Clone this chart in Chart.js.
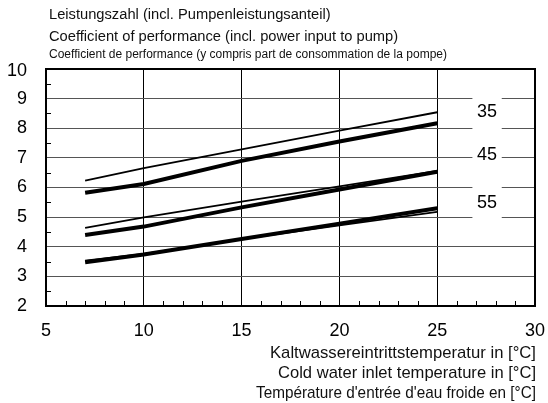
<!DOCTYPE html>
<html>
<head>
<meta charset="utf-8">
<script src="https://cdn.jsdelivr.net/npm/chart.js@4/dist/chart.umd.min.js"></script>
<style>
  html, body { margin: 0; padding: 0; background: #fff; }
  #wrap { width: 548px; height: 403px; }
</style>
</head>
<body>
<div id="wrap"><canvas id="cop"></canvas></div>
<script>
// water inlet temperature [°C]
const inletTemps = [7, 10, 15, 20, 25]

// COP curves (thin / thick line per outlet temperature)
const cop35Thin  = [6.23, 6.65, 7.29, 7.92, 8.54]
const cop35Thick = [5.82, 6.12, 6.90, 7.55, 8.17]
const cop45Thin  = [4.64, 4.99, 5.52, 6.04, 6.56]
const cop45Thick = [4.40, 4.68, 5.33, 5.93, 6.53]
const cop55Thin  = [3.53, 3.76, 4.26, 4.72, 5.18]
const cop55Thick = [3.48, 3.74, 4.26, 4.78, 5.30]

const curveLabels = ['35', '45', '55']
const curveLabelY = [8.55, 7.10, 5.48]
const curveLabelX = 27.55

const titleLines = [
    'Leistungszahl (incl. Pumpenleistungsanteil)',
    'Coefficient of performance (incl. power input to pump)',
    'Coefficient de performance (y compris part de consommation de la pompe)'
]
const xTitleLines = [
    'Kaltwassereintrittstemperatur in [°C]',
    'Cold water inlet temperature in [°C]',
    "Température d'entrée d'eau froide en [°C]"
]

const FONT = '"Liberation Sans", Arial, sans-serif'

function toPoints(values) {
    return values.map((v, i) => ({ x: inletTemps[i], y: v }))
}

function lineSet(values, thick) {
    return {
        data: toPoints(values),
        borderColor: '#000',
        borderWidth: thick ? 4 : 1.8,
        borderCapStyle: 'butt',
        pointRadius: 0,
        tension: 0,
        fill: false
    }
}

// frame, inward minor ticks, curve labels and all the free texts
const decorPlugin = {
    id: 'decor',
    beforeDatasetsDraw(chart) {
        const { ctx, chartArea: a, scales: { x, y } } = chart
        ctx.save()
        ctx.strokeStyle = '#000'
        ctx.lineWidth = 1
        ctx.beginPath()
        for (let v = 6; v < 30; v++) {
            if (v % 5 === 0) continue
            const px = Math.round(x.getPixelForValue(v)) + 0.5
            ctx.moveTo(px, a.bottom)
            ctx.lineTo(px, a.bottom - 5)
        }
        for (let v = 2.5; v < 10; v += 1) {
            const py = Math.round(y.getPixelForValue(v)) + 0.5
            ctx.moveTo(a.left, py)
            ctx.lineTo(a.left + 5, py)
        }
        ctx.stroke()

        // gaps in the gridlines behind the curve labels
        ctx.fillStyle = '#fff'
        const gx0 = x.getPixelForValue(26.8), gx1 = x.getPixelForValue(28.3)
        const gy0 = y.getPixelForValue(9.1), gy1 = y.getPixelForValue(4.85)
        ctx.fillRect(gx0, gy0, gx1 - gx0, gy1 - gy0)

        ctx.fillStyle = '#000'
        ctx.font = '18px ' + FONT
        ctx.textAlign = 'center'
        ctx.textBaseline = 'middle'
        curveLabels.forEach((t, i) => {
            ctx.fillText(t, x.getPixelForValue(curveLabelX), y.getPixelForValue(curveLabelY[i]))
        })

        ctx.lineWidth = 2
        ctx.strokeRect(a.left, a.top, a.right - a.left, a.bottom - a.top)
        ctx.restore()
    },
    afterDraw(chart) {
        const { ctx, chartArea: a, scales: { y } } = chart
        ctx.save()
        ctx.fillStyle = '#000'

        // y tick labels
        ctx.font = '18px ' + FONT
        ctx.textAlign = 'right'
        ctx.textBaseline = 'middle'
        y.ticks.forEach((t) => {
            let py = y.getPixelForValue(t.value)
            py = Math.max(py, a.top + 2)
            ctx.fillText(String(t.value), 27, py)
        })

        ctx.fillStyle = '#111'
        ctx.textAlign = 'left'
        ctx.font = '14.7px ' + FONT
        ctx.fillText(titleLines[0], 49, 15)
        ctx.fillText(titleLines[1], 49, 37)
        ctx.font = '12px "Liberation Sans Narrow", ' + FONT
        ctx.fillText(titleLines[2], 49, 55, 399)

        ctx.textAlign = 'right'
        ctx.font = '17px ' + FONT
        ctx.fillText(xTitleLines[0], a.right + 1, 353, 266)
        ctx.fillText(xTitleLines[1], a.right + 1, 373, 258)
        ctx.fillText(xTitleLines[2], a.right + 1, 393, 280)
        ctx.restore()
    }
}

new Chart(document.getElementById('cop'), {
    type: 'line',
    data: {
        datasets: [
            lineSet(cop35Thin, false),
            lineSet(cop35Thick, true),
            lineSet(cop45Thin, false),
            lineSet(cop45Thick, true),
            lineSet(cop55Thin, false),
            lineSet(cop55Thick, true)
        ]
    },
    options: {
        responsive: true,
        maintainAspectRatio: false,
        animation: false,
        layout: { padding: { top: 69, right: 13, left: 0, bottom: 0 } },
        plugins: {
            legend: { display: false },
            tooltip: { enabled: false }
        },
        scales: {
            x: {
                type: 'linear',
                min: 5,
                max: 30,
                afterFit: (s) => { s.height = 97 },
                border: { display: false },
                grid: { color: '#000', lineWidth: 1, drawTicks: true, tickLength: 14, tickColor: 'rgba(0,0,0,0)' },
                ticks: {
                    stepSize: 5,
                    padding: 0,
                    color: '#000',
                    font: { size: 18, family: FONT }
                }
            },
            y: {
                min: 2,
                max: 10,
                afterFit: (s) => { s.width = 46 },
                border: { display: false },
                grid: { color: '#555', lineWidth: 1, drawTicks: false },
                ticks: { stepSize: 1, display: false }
            }
        }
    },
    plugins: [decorPlugin]
})
</script>
</body>
</html>
